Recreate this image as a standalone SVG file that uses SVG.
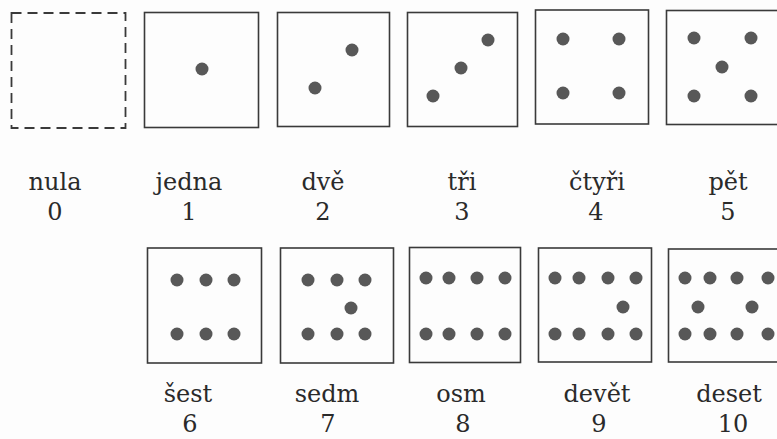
<svg xmlns="http://www.w3.org/2000/svg" width="777" height="439" viewBox="0 0 777 439">
  <style>
    .box { fill: none; stroke: #3a3a3a; stroke-width: 1.6; }
    .empty { stroke-dasharray: 10 6; stroke-width: 1.8; }
    .dot { fill: #585858; }
    .lbl { font-family: "DejaVu Serif", "Liberation Serif", serif; font-size: 24px; fill: #2a2a2a; text-anchor: middle; }
  </style>
  <rect width="777" height="439" fill="#fdfdfd"/>

  <!-- row 1: 0 to 5 -->
  <g id="n0">
    <rect class="box empty" x="11.5" y="13" width="114" height="115"/>
    <text class="lbl" x="55" y="190">nula</text>
    <text class="lbl" x="55" y="220">0</text>
  </g>
  <g id="n1">
    <rect class="box" x="144.5" y="12.5" width="114" height="115"/>
    <circle class="dot" cx="202" cy="69" r="6.5"/>
    <text class="lbl" x="189" y="190">jedna</text>
    <text class="lbl" x="189" y="220">1</text>
  </g>
  <g id="n2">
    <rect class="box" x="277.5" y="12.5" width="112" height="114"/>
    <circle class="dot" cx="352" cy="50" r="6.5"/>
    <circle class="dot" cx="315" cy="88" r="6.5"/>
    <text class="lbl" x="323" y="190">dvě</text>
    <text class="lbl" x="323" y="220">2</text>
  </g>
  <g id="n3">
    <rect class="box" x="407.5" y="12.5" width="110" height="114"/>
    <circle class="dot" cx="488" cy="40" r="6.5"/>
    <circle class="dot" cx="461" cy="68" r="6.5"/>
    <circle class="dot" cx="433" cy="96" r="6.5"/>
    <text class="lbl" x="462" y="190">tři</text>
    <text class="lbl" x="462" y="220">3</text>
  </g>
  <g id="n4">
    <rect class="box" x="535.5" y="10" width="113" height="114"/>
    <circle class="dot" cx="563" cy="39" r="6.5"/>
    <circle class="dot" cx="619" cy="39" r="6.5"/>
    <circle class="dot" cx="563" cy="93" r="6.5"/>
    <circle class="dot" cx="619" cy="93" r="6.5"/>
    <text class="lbl" x="597" y="190">čtyři</text>
    <text class="lbl" x="596" y="220">4</text>
  </g>
  <g id="n5">
    <rect class="box" x="666.5" y="10.5" width="114" height="114"/>
    <circle class="dot" cx="694" cy="38" r="6.5"/>
    <circle class="dot" cx="751" cy="38" r="6.5"/>
    <circle class="dot" cx="722" cy="67" r="6.5"/>
    <circle class="dot" cx="694" cy="96" r="6.5"/>
    <circle class="dot" cx="751" cy="96" r="6.5"/>
    <text class="lbl" x="728" y="190">pět</text>
    <text class="lbl" x="728" y="220">5</text>
  </g>

  <!-- row 2: 6 to 10 -->
  <g id="n6">
    <rect class="box" x="147.5" y="248" width="114" height="115"/>
    <circle class="dot" cx="177" cy="280" r="6.5"/>
    <circle class="dot" cx="206" cy="280" r="6.5"/>
    <circle class="dot" cx="234" cy="280" r="6.5"/>
    <circle class="dot" cx="177" cy="334" r="6.5"/>
    <circle class="dot" cx="206" cy="334" r="6.5"/>
    <circle class="dot" cx="234" cy="334" r="6.5"/>
    <text class="lbl" x="188" y="402">šest</text>
    <text class="lbl" x="190" y="432">6</text>
  </g>
  <g id="n7">
    <rect class="box" x="280.5" y="248" width="113" height="115"/>
    <circle class="dot" cx="308" cy="280" r="6.5"/>
    <circle class="dot" cx="337" cy="280" r="6.5"/>
    <circle class="dot" cx="365" cy="280" r="6.5"/>
    <circle class="dot" cx="351" cy="308" r="6.5"/>
    <circle class="dot" cx="308" cy="334" r="6.5"/>
    <circle class="dot" cx="337" cy="334" r="6.5"/>
    <circle class="dot" cx="365" cy="334" r="6.5"/>
    <text class="lbl" x="327" y="402">sedm</text>
    <text class="lbl" x="328" y="432">7</text>
  </g>
  <g id="n8">
    <rect class="box" x="409.5" y="247.5" width="111" height="115"/>
    <circle class="dot" cx="426" cy="278" r="6.5"/>
    <circle class="dot" cx="449" cy="278" r="6.5"/>
    <circle class="dot" cx="477" cy="278" r="6.5"/>
    <circle class="dot" cx="505" cy="278" r="6.5"/>
    <circle class="dot" cx="426" cy="334" r="6.5"/>
    <circle class="dot" cx="449" cy="334" r="6.5"/>
    <circle class="dot" cx="477" cy="334" r="6.5"/>
    <circle class="dot" cx="505" cy="334" r="6.5"/>
    <text class="lbl" x="461" y="402">osm</text>
    <text class="lbl" x="463" y="432">8</text>
  </g>
  <g id="n9">
    <rect class="box" x="538.5" y="248" width="113" height="114"/>
    <circle class="dot" cx="555" cy="278" r="6.5"/>
    <circle class="dot" cx="579" cy="278" r="6.5"/>
    <circle class="dot" cx="608" cy="278" r="6.5"/>
    <circle class="dot" cx="636" cy="278" r="6.5"/>
    <circle class="dot" cx="623" cy="307" r="6.5"/>
    <circle class="dot" cx="555" cy="334" r="6.5"/>
    <circle class="dot" cx="579" cy="334" r="6.5"/>
    <circle class="dot" cx="608" cy="334" r="6.5"/>
    <circle class="dot" cx="636" cy="334" r="6.5"/>
    <text class="lbl" x="597" y="402">devět</text>
    <text class="lbl" x="599" y="432">9</text>
  </g>
  <g id="n10">
    <rect class="box" x="668.5" y="249" width="114" height="113"/>
    <circle class="dot" cx="685" cy="278" r="6.5"/>
    <circle class="dot" cx="710" cy="278" r="6.5"/>
    <circle class="dot" cx="737" cy="278" r="6.5"/>
    <circle class="dot" cx="768" cy="278" r="6.5"/>
    <circle class="dot" cx="698" cy="307" r="6.5"/>
    <circle class="dot" cx="752" cy="307" r="6.5"/>
    <circle class="dot" cx="685" cy="334" r="6.5"/>
    <circle class="dot" cx="710" cy="334" r="6.5"/>
    <circle class="dot" cx="737" cy="334" r="6.5"/>
    <circle class="dot" cx="768" cy="334" r="6.5"/>
    <text class="lbl" x="729" y="402">deset</text>
    <text class="lbl" x="733" y="432">10</text>
  </g>

  <!-- no connectors in this figure -->
  <g id="connectors"/>
</svg>
